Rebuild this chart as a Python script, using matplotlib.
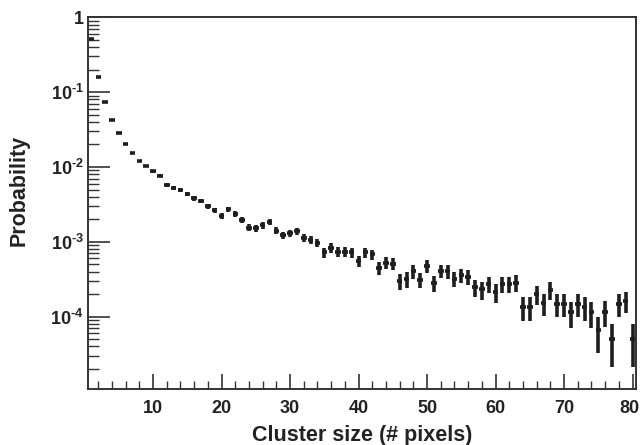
import numpy as np
import matplotlib
matplotlib.use("Agg")
import matplotlib.pyplot as plt
import matplotlib.transforms as mtransforms
from matplotlib.ticker import FixedLocator, MultipleLocator, FuncFormatter

plt.rcParams['font.family'] = ['Liberation Sans', 'DejaVu Sans']
plt.rcParams['font.weight'] = 'bold'
plt.rcParams['mathtext.fontset'] = 'custom'
plt.rcParams['mathtext.rm'] = 'Liberation Sans:bold'
plt.rcParams['mathtext.it'] = 'Liberation Sans:bold'
plt.rcParams['mathtext.bf'] = 'Liberation Sans:bold'

# cluster size (pixels) and probability
cluster_size = np.arange(1, 81)
probability = [
    0.52, 0.160, 0.0735, 0.043, 0.0283, 0.0203, 0.01525, 0.0120, 0.0103, 0.00875,
    0.00767, 0.00574, 0.00524, 0.00493, 0.00431, 0.00381, 0.00351, 0.00301, 0.00266, 0.00223,
    0.00274, 0.00238, 0.00195, 0.00155, 0.00153, 0.00166, 0.00184, 0.00141, 0.00122, 0.00131,
    0.00139, 0.00112, 0.00107, 0.000973, 0.000728, 0.000834, 0.000737, 0.000737, 0.000721, 0.000558,
    0.000728, 0.000678, 0.000450, 0.000525, 0.000509, 0.000300, 0.000317, 0.000402, 0.000311, 0.000479,
    0.000280, 0.000410, 0.000405, 0.000321, 0.000358, 0.000344, 0.000248, 0.000231, 0.000272, 0.000212,
    0.000272, 0.000274, 0.000286, 0.000134, 0.000134, 0.000202, 0.000151, 0.000229, 0.000148, 0.000148,
    0.000115, 0.000148, 0.000134, 0.000115, 0.0000665, 0.000117, 0.0000505, 0.000148, 0.000164, 0.0000505,
]
n_clusters = 59500  # total entries, from the size of the error bars

p = np.array(probability)
err = np.sqrt(p / n_clusters)
err_lo = np.minimum(err, p * 0.999)

fig = plt.figure(figsize=(6.41, 4.45), dpi=100)
ax = fig.add_axes([0.1373, 0.1258, 0.8549, 0.8353])

ax.errorbar(cluster_size, p, yerr=[err_lo, err], xerr=0.4, fmt='none',
            ecolor='#1e1e1e', elinewidth=2.6, capsize=0)

ax.set_yscale('log')
ax.set_xlim(0.5, 80.5)
ax.set_ylim(1.08e-5, 1)

ax.xaxis.set_major_locator(MultipleLocator(10))
ax.xaxis.set_minor_locator(MultipleLocator(2))
ax.yaxis.set_major_locator(FixedLocator([1e-4, 1e-3, 1e-2, 1e-1, 1]))
minors = [m * 10.0 ** e for e in range(-5, 0) for m in range(2, 10)]
ax.yaxis.set_minor_locator(FixedLocator(minors))


def ylab(v, pos):
    e = int(round(np.log10(v)))
    if e == 0:
        return '1'
    return r'$10^{\text{-%d}}$' % (-e)


ax.yaxis.set_major_formatter(FuncFormatter(ylab))
ax.yaxis.set_minor_formatter(FuncFormatter(lambda v, pos: ''))

ax.tick_params(axis='both', which='both', direction='in', colors='#333333',
               labelcolor='#222222', labelsize=13)
ax.tick_params(axis='x', which='major', length=11, width=1.2, pad=8)
ax.tick_params(axis='x', which='minor', length=5.5, width=1.0)
ax.tick_params(axis='y', which='major', length=16, width=1.2, pad=3)
ax.tick_params(axis='y', which='minor', length=8, width=1.0)
for s in ax.spines.values():
    s.set_linewidth(1.4)
    s.set_color('#333333')

ax.set_xlabel('Cluster size (# pixels)', fontsize=15.5, fontweight='bold', color='#222222')
ax.set_ylabel('Probability', fontsize=15.5, fontweight='bold', color='#222222')
ax.xaxis.set_label_coords(0.5, -0.097)
ax.yaxis.set_label_coords(-0.106, 0.535)

# nudge the "80" label so it stays inside the picture
fig.canvas.draw()
for tick in ax.xaxis.get_major_ticks():
    if abs(tick.get_loc() - 80) < 1e-6:
        lab = tick.label1
        lab.set_transform(lab.get_transform() +
                          mtransforms.ScaledTranslation(-2.5 / 72, 0, fig.dpi_scale_trans))

fig.savefig('out.png', dpi=100)
